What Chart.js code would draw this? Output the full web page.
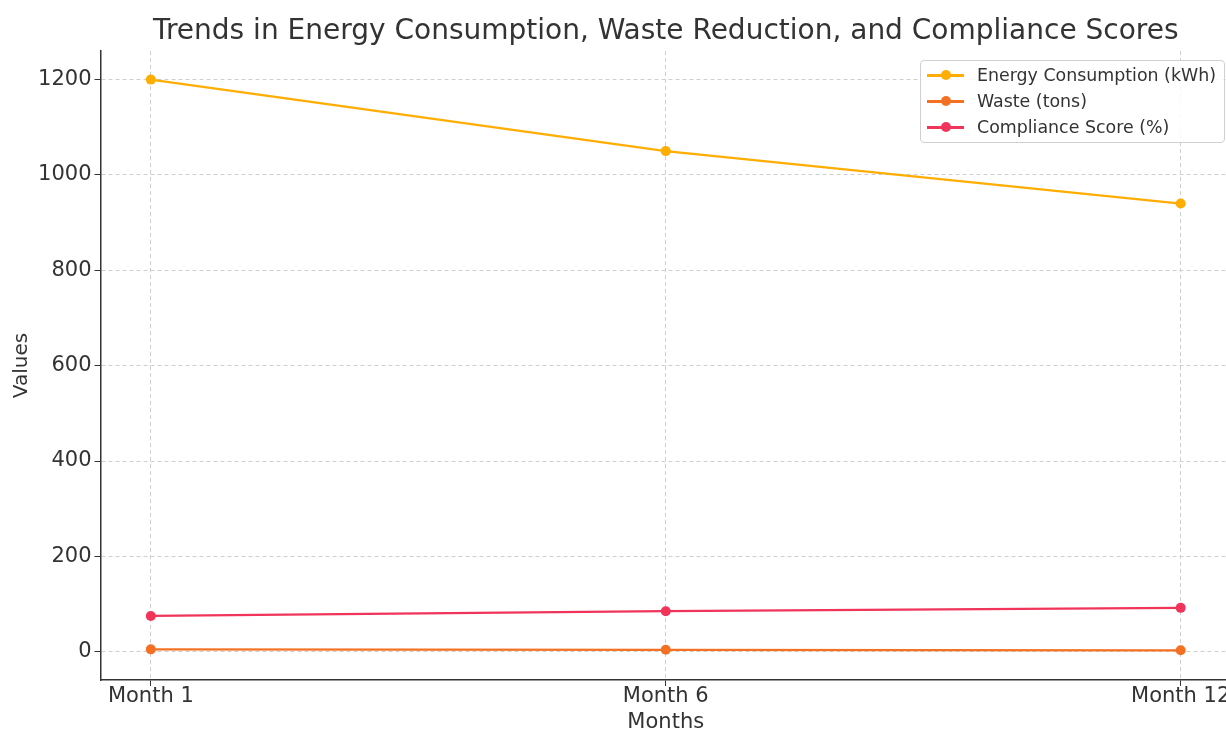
<!DOCTYPE html>
<html>
<head>
<meta charset="utf-8">
<script src="https://cdn.jsdelivr.net/npm/chart.js@4"></script>
<style>
  html, body { margin: 0; padding: 0; background: #fff; overflow: hidden; }
  #wrap { position: relative; width: 1240px; height: 735px; }
  #leyenda {
    position: absolute; left: 920px; top: 60px; width: 303px; height: 81px;
    border: 1px solid #d0d0d0; border-radius: 4px; background: rgba(255,255,255,0.85);
    font-family: "DejaVu Sans", sans-serif; font-size: 17.4px; color: #333;
  }
  .fila { position: absolute; left: 0; height: 26px; line-height: 26px; }
  .muestra { position: absolute; left: 6px; top: 12px; width: 37px; height: 2.5px; }
  .punto { position: absolute; left: 20px; top: 8px; width: 10px; height: 10px; border-radius: 50%; }
  .texto { position: absolute; left: 56px; top: 0; white-space: nowrap; }
</style>
</head>
<body>
<div id="wrap">
  <canvas id="grafico" width="1240" height="735"></canvas>
  <div id="leyenda"></div>
</div>
<script>
const meses = ["Month 1", "Month 6", "Month 12"];
const energia = [1200, 1050, 940];
const residuos = [5, 4, 3];
const cumplimiento = [75, 85, 92];
const nombres = ["Energy Consumption (kWh)", "Waste (tons)", "Compliance Score (%)"];
const colores = ["#FFAD00", "#F47124", "#F0345A"];
const ticksY = [0, 200, 400, 600, 800, 1000, 1200];

const fuente = "'DejaVu Sans', sans-serif";

function puntos(valores) {
  return valores.map((v, i) => ({ x: i, y: v }));
}

const series = [energia, residuos, cumplimiento];
const datasets = series.map((valores, i) => ({
  label: nombres[i],
  data: puntos(valores),
  borderColor: colores[i],
  backgroundColor: colores[i],
  borderWidth: 2.2,
  pointRadius: 5,
  pointHoverRadius: 5,
  pointBorderWidth: 0,
  tension: 0,
}));

// leyenda en html, dentro del area del grafico
const leyenda = document.getElementById("leyenda");
nombres.forEach((nombre, i) => {
  const fila = document.createElement("div");
  fila.className = "fila";
  fila.style.top = (1 + i * 26) + "px";
  fila.innerHTML = `<span class="muestra" style="background:${colores[i]}"></span>` +
    `<span class="punto" style="background:${colores[i]}"></span>` +
    `<span class="texto">${nombre}</span>`;
  leyenda.appendChild(fila);
});

const config = {
  type: "line",
  data: { datasets },
  options: {
    responsive: false,
    animation: false,
    layout: { padding: { left: 0, right: 9, top: 0, bottom: 0 } },
    plugins: {
      legend: { display: false },
      tooltip: { enabled: false },
      title: {
        display: true,
        fullSize: false,
        text: "Trends in Energy Consumption, Waste Reduction, and Compliance Scores",
        color: "#333",
        font: { family: fuente, size: 28, weight: "normal" },
        padding: { top: 15, bottom: 2.4 },
      },
    },
    scales: {
      x: {
        type: "linear",
        min: -0.0977,
        max: 2.0977,
        afterBuildTicks: (scale) => {
          scale.ticks = meses.map((m, i) => ({ value: i }));
        },
        afterFit: (scale) => { scale.height = 55; },
        ticks: {
          color: "#333",
          font: { family: fuente, size: 21 },
          padding: -2,
          maxRotation: 0,
          callback: (v) => meses[v],
        },
        grid: {
          color: "#cfcfcf",
          lineWidth: 1,
          tickLength: 6,
          tickColor: "#333",
          tickBorderDash: [],
        },
        border: { display: true, color: "#333", width: 1.5, dash: [4, 3] },
        title: {
          display: true,
          text: "Months",
          color: "#333",
          font: { family: fuente, size: 21 },
          padding: { top: 0, bottom: 0 },
        },
      },
      y: {
        min: -59.3,
        max: 1260,
        afterBuildTicks: (scale) => {
          scale.ticks = ticksY.map((v) => ({ value: v }));
        },
        afterFit: (scale) => { scale.width = 100.5; },
        ticks: {
          color: "#333",
          font: { family: fuente, size: 21 },
          padding: 3,
          callback: (v) => String(v),
        },
        grid: {
          color: "#cfcfcf",
          lineWidth: 1,
          tickLength: 6,
          tickColor: "#333",
          tickBorderDash: [],
        },
        border: { display: true, color: "#333", width: 1.5, dash: [4, 3] },
        title: {
          display: true,
          text: "Values",
          color: "#333",
          font: { family: fuente, size: 20 },
          padding: { top: 10, bottom: 0 },
        },
      },
    },
  },
};

window.miGrafico = new Chart(document.getElementById("grafico"), config);
</script>
</body>
</html>
